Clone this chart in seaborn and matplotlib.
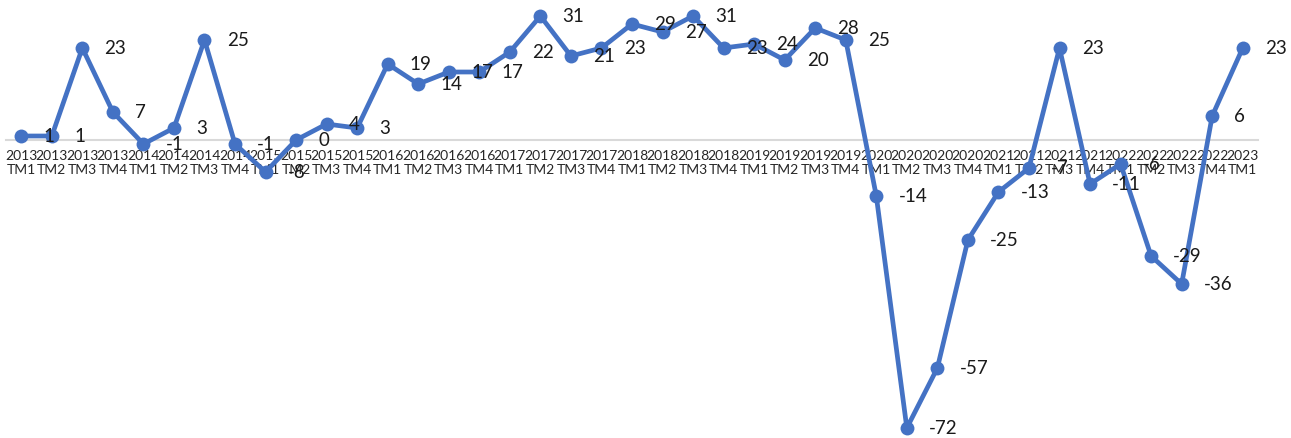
import numpy as np
import pandas as pd
import matplotlib
matplotlib.use("Agg")
import matplotlib.pyplot as plt
import seaborn as sns

years = ["2013"] * 4 + ["2014"] * 4 + ["2015"] * 4 + ["2016"] * 4 + ["2017"] * 4 + \
        ["2018"] * 4 + ["2019"] * 4 + ["2020"] * 4 + ["2021"] * 4 + ["2022"] * 4 + ["2023"]
quarters = ["TM1", "TM2", "TM3", "TM4"] * 10 + ["TM1"]
values = [1, 1, 23, 7, -1, 3, 25, -1, -8, 0, 4, 3,
          19, 14, 17, 17, 22, 31, 21, 23, 29, 27, 31, 23,
          24, 20, 28, 25, -14, -72, -57, -25, -13, -7, 23, -11,
          -6, -29, -36, 6, 23]

labels = [f"{y}\n{q}" for y, q in zip(years, quarters)]
df = pd.DataFrame({"pos": np.arange(len(values)), "value": values})

sns.set_style("white")
plt.rcParams["font.family"] = ["Lato", "DejaVu Sans"]

fig = plt.figure(figsize=(12.91, 4.38), dpi=100)
ax = fig.add_axes([6 / 1291, 0, 1252 / 1291, 1])

sns.lineplot(data=df, x="pos", y="value", ax=ax, color="#4472C4", linewidth=3.4,
             marker="o", markersize=10, markeredgewidth=0, zorder=3)

for x, v in zip(df["pos"], df["value"]):
    ax.annotate(str(v), (x, v), xytext=(16, 0), textcoords="offset points",
                ha="left", va="center", fontsize=13.5, color="#1a1a1a", zorder=4)

ax.set_xlim(-0.5, len(values) - 0.5)
ax.set_ylim(-74.5, 35)
ax.set_xticks(df["pos"])
ax.set_xticklabels(labels, fontsize=7.4, color="#262626", linespacing=1.45)
ax.tick_params(axis="x", length=0, pad=7.5)
ax.set_yticks([])
ax.set_xlabel("")
ax.set_ylabel("")
for s in ["top", "right", "left"]:
    ax.spines[s].set_visible(False)
ax.spines["bottom"].set_position(("data", 0))
ax.spines["bottom"].set_color("#d9d9d9")
ax.spines["bottom"].set_linewidth(1.5)
ax.spines["bottom"].set_zorder(1)

fig.savefig("out.png", dpi=100)
